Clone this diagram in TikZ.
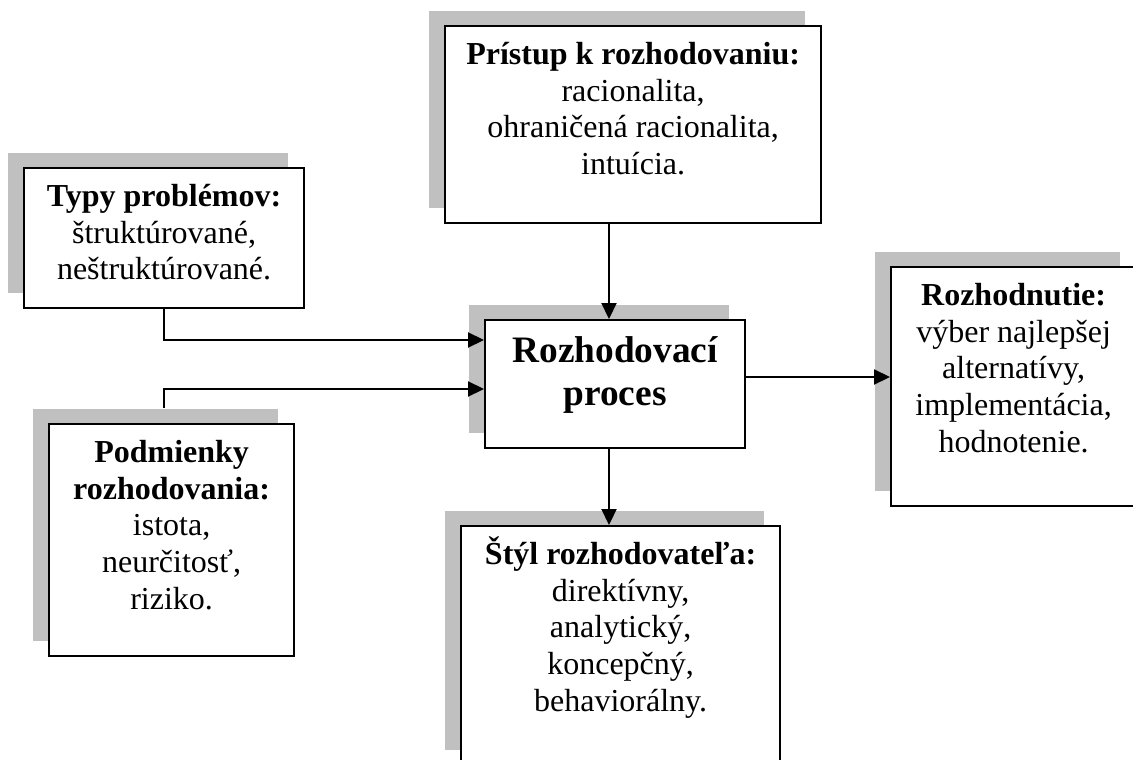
\documentclass[tikz,border=0pt]{standalone}
\usepackage{fontspec}
\setmainfont{Liberation Serif}
\usetikzlibrary{arrows.meta,shadows}
\definecolor{shade}{RGB}{192,192,192}
% struts: first line sits 38.1 below the box top, last line fills to the bottom
\newcommand\headstrut[1]{\rule{0pt}{#1pt}}
\newcommand\tailstrut[1]{\rule[-#1pt]{0pt}{#1pt}}
\tikzset{
  box/.style={draw=black, line width=2.2pt, fill=white, anchor=north west,
    inner sep=0pt, align=center, font=\fontsize{32}{36.8}\selectfont,
    general shadow={shadow xshift=-16pt, shadow yshift=15.5pt, fill=shade}},
  bigbox/.style={box, font=\fontsize{37.33}{42.93}\selectfont\bfseries},
  link/.style={line width=2.2pt, -{Triangle[length=16pt,width=15pt]}}
}
\begin{document}
\begin{tikzpicture}[x=1pt,y=-1pt]
\useasboundingbox (0,0) rectangle (1133,760);

\node[box, minimum width=280, minimum height=140] (typy) at (23,167)
  {\headstrut{38.1}\textbf{Typy problémov:}\\ štruktúrované,\\ \tailstrut{28.3}neštruktúrované.};

\node[box, minimum width=376, minimum height=197] (pristup) at (444,25)
  {\headstrut{38.1}\textbf{Prístup k rozhodovaniu:}\\ racionalita,\\ ohraničená racionalita,\\ \tailstrut{48.5}intuícia.};

\node[box, minimum width=245, minimum height=232] (podm) at (48,423)
  {\headstrut{38.1}\textbf{Podmienky}\\ \textbf{rozhodovania:}\\ istota,\\ neurčitosť,\\ \tailstrut{46.7}riziko.};

\node[bigbox, minimum width=260, minimum height=128] (proces) at (484,319)
  {\headstrut{42.8}Rozhodovací\\ \tailstrut{42.27}proces};

\node[box, minimum width=319, minimum height=239] (styl) at (460,525)
  {\headstrut{38.1}\textbf{Štýl rozhodovateľa:}\\ direktívny,\\ analytický,\\ koncepčný,\\ \tailstrut{53.7}behaviorálny.};

\node[box, minimum width=245, minimum height=239] (rozh) at (890,266)
  {\headstrut{38.1}\textbf{Rozhodnutie:}\\ výber najlepšej\\ alternatívy,\\ implementácia,\\ \tailstrut{53.7}hodnotenie.};

% routing points of the connectors
\coordinate (h1) at (0,340);
\coordinate (h2) at (164,389);
\coordinate (h3) at (0,377);
\coordinate (v1) at (609,0);

\draw[link] (typy.south) |- (proces.west |- h1);
\draw[link] ([yshift=15.5pt]podm.north -| h2) |- (proces.west |- h2);
\draw[link] (pristup.south -| v1) -- (proces.north -| v1);
\draw[link] (proces.south -| v1) -- (styl.north -| v1);
\draw[link] (proces.east |- h3) -- (rozh.west |- h3);
\end{tikzpicture}
\end{document}
